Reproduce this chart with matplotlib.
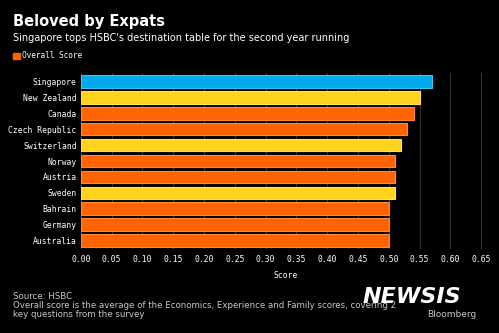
import matplotlib.pyplot as plt

countries = ['Singapore', 'New Zealand', 'Canada', 'Czech Republic', 'Switzerland',
             'Norway', 'Austria', 'Sweden', 'Bahrain', 'Germany', 'Australia']
scores = [0.57, 0.55, 0.54, 0.53, 0.52, 0.51, 0.51, 0.51, 0.50, 0.50, 0.50]
bar_colors = ['#00a9ec', '#ffd21c', '#ff6400', '#ff6400', '#ffd21c',
              '#ff6400', '#ff6400', '#ffd21c', '#ff6400', '#ff6400', '#ff6400']
edge_colors = ['#3fc3f5', '#ffe25a', '#ff8a3c', '#ff8a3c', '#ffe25a',
               '#ff8a3c', '#ff8a3c', '#ffe25a', '#ff8a3c', '#ff8a3c', '#ff8a3c']
xticks = [0.00, 0.05, 0.10, 0.15, 0.20, 0.25, 0.30, 0.35, 0.40, 0.45, 0.50, 0.55, 0.60, 0.65]

mono = 'DejaVu Sans Mono'

fig = plt.figure(figsize=(4.99, 3.33), dpi=100, facecolor='black')
ax = fig.add_axes([0.162, 0.252, 0.821, 0.529], facecolor='black')

ax.barh(range(len(countries)), scores, height=0.78, color=bar_colors,
        edgecolor=edge_colors, linewidth=0.8, zorder=3)

ax.set_xlim(0, 0.665)
ax.set_ylim(len(countries) - 0.45, -0.55)
ax.set_xticks(xticks)
ax.set_xticklabels(['%.2f' % t for t in xticks], fontsize=5.8, family=mono, color='white')
ax.set_yticks(range(len(countries)))
ax.set_yticklabels(countries, fontsize=5.8, family=mono, color='white')
ax.tick_params(axis='both', length=0, pad=3)
ax.tick_params(axis='x', pad=4.5)
ax.grid(axis='x', color='#333333', linewidth=0.8, zorder=0)
for s in ax.spines.values():
    s.set_visible(False)
ax.set_xlabel('Score', fontsize=5.8, family=mono, color='white', labelpad=5)

fig.text(0.026, 0.934, 'Beloved by Expats', fontsize=10.5, fontweight='bold',
         color='white', va='center')
fig.text(0.026, 0.886, "Singapore tops HSBC's destination table for the second year running",
         fontsize=7, color='white', va='center')
fig.patches.append(plt.Rectangle((0.027, 0.822), 0.013, 0.02, transform=fig.transFigure,
                                 color='#ff6400', figure=fig))
fig.text(0.045, 0.832, 'Overall Score', fontsize=5.6, family=mono, color='white', va='center')

fig.text(0.026, 0.084, 'Source: HSBC\nOverall score is the average of the Economics, '
         'Experience and Family scores, covering 2\nkey questions from the survey',
         fontsize=6.2, color='#c8c8c8', va='center', linespacing=1.0)

fig.text(0.826, 0.108, 'NEWSIS', fontsize=16, fontweight='bold', style='italic',
         color='white', ha='center', va='center')
fig.text(0.955, 0.057, 'Bloomberg', fontsize=6.5, color='#c8c8c8', ha='right', va='center')

fig.savefig('out.png', dpi=100, facecolor='black')
